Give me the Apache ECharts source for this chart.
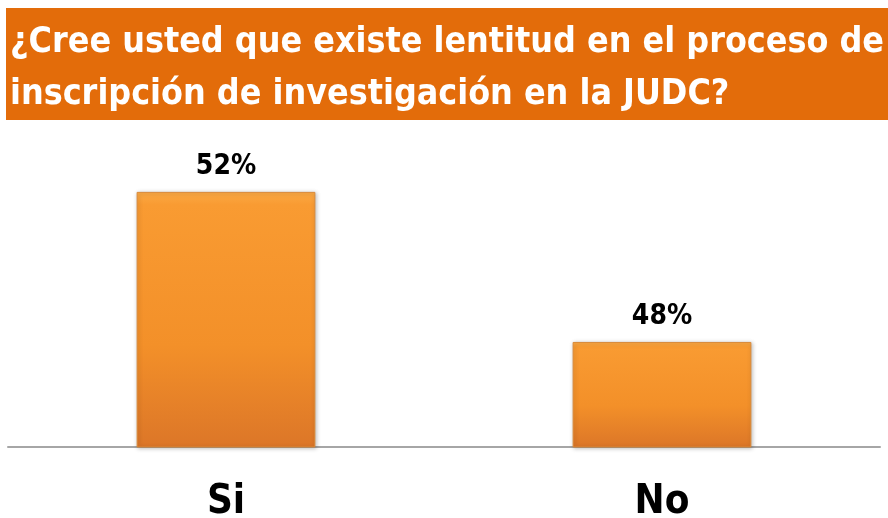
<!DOCTYPE html>
<html>
<head>
<meta charset="utf-8">
<script src="https://cdn.jsdelivr.net/npm/echarts@6/dist/echarts.min.js"></script>
<style>
  html, body { margin: 0; padding: 0; background: #fff; }
  #chart { width: 888px; height: 518px; }
</style>
</head>
<body>
<div id="chart"></div>
<script>
  var titleText = '¿Cree usted que existe lentitud en el proceso de\ninscripción de investigación en la JUDC?';
  var categories = ['Si', 'No'];
  var values = [52, 48];

  var font = '"Liberation Sans Narrow", "DejaVu Sans Condensed", sans-serif';
  var myChart = echarts.init(document.getElementById('chart'));

  myChart.setOption({
    animation: false,
    backgroundColor: '#fff',
    graphic: [
      {
        type: 'rect',
        shape: { x: 6, y: 8, width: 882, height: 112 },
        style: { fill: '#E36C0A' },
        z: 0
      }
    ],
    title: {
      text: titleText,
      left: 10,
      top: 17,
      padding: 0,
      textStyle: {
        color: '#fff',
        fontFamily: font,
        fontWeight: 'bold',
        fontSize: 35.5,
        lineHeight: 52
      },
      z: 5
    },
    grid: {
      left: 8,
      right: 8,
      top: 130,
      bottom: 71,
      outerBoundsMode: 'none'
    },
    xAxis: {
      type: 'category',
      data: categories,
      axisTick: { show: false },
      axisLine: { lineStyle: { color: '#A6A6A6', width: 2 } },
      axisLabel: {
        color: '#000',
        fontFamily: font,
        fontWeight: 'bold',
        fontSize: 40,
        margin: 36
      }
    },
    yAxis: {
      type: 'value',
      min: 45.2,
      max: 53.65,
      show: false,
      splitLine: { show: false }
    },
    series: [
      {
        type: 'bar',
        data: values,
        barWidth: '41%',
        itemStyle: {
          color: new echarts.graphic.LinearGradient(0, 0, 0, 1, [
            { offset: 0, color: '#FBAA45' },
            { offset: 0.05, color: '#F99B32' },
            { offset: 0.6, color: '#F39029' },
            { offset: 1, color: '#DC7628' }
          ]),
          borderColor: '#D98A3A',
          borderWidth: 1,
          shadowColor: 'rgba(0,0,0,0.25)',
          shadowBlur: 4,
          shadowOffsetX: 1,
          shadowOffsetY: 1
        },
        label: {
          show: true,
          position: 'top',
          distance: 11,
          formatter: '{c}%',
          color: '#000',
          fontFamily: font,
          fontWeight: 'bold',
          fontSize: 28
        }
      }
    ]
  });
</script>
</body>
</html>
